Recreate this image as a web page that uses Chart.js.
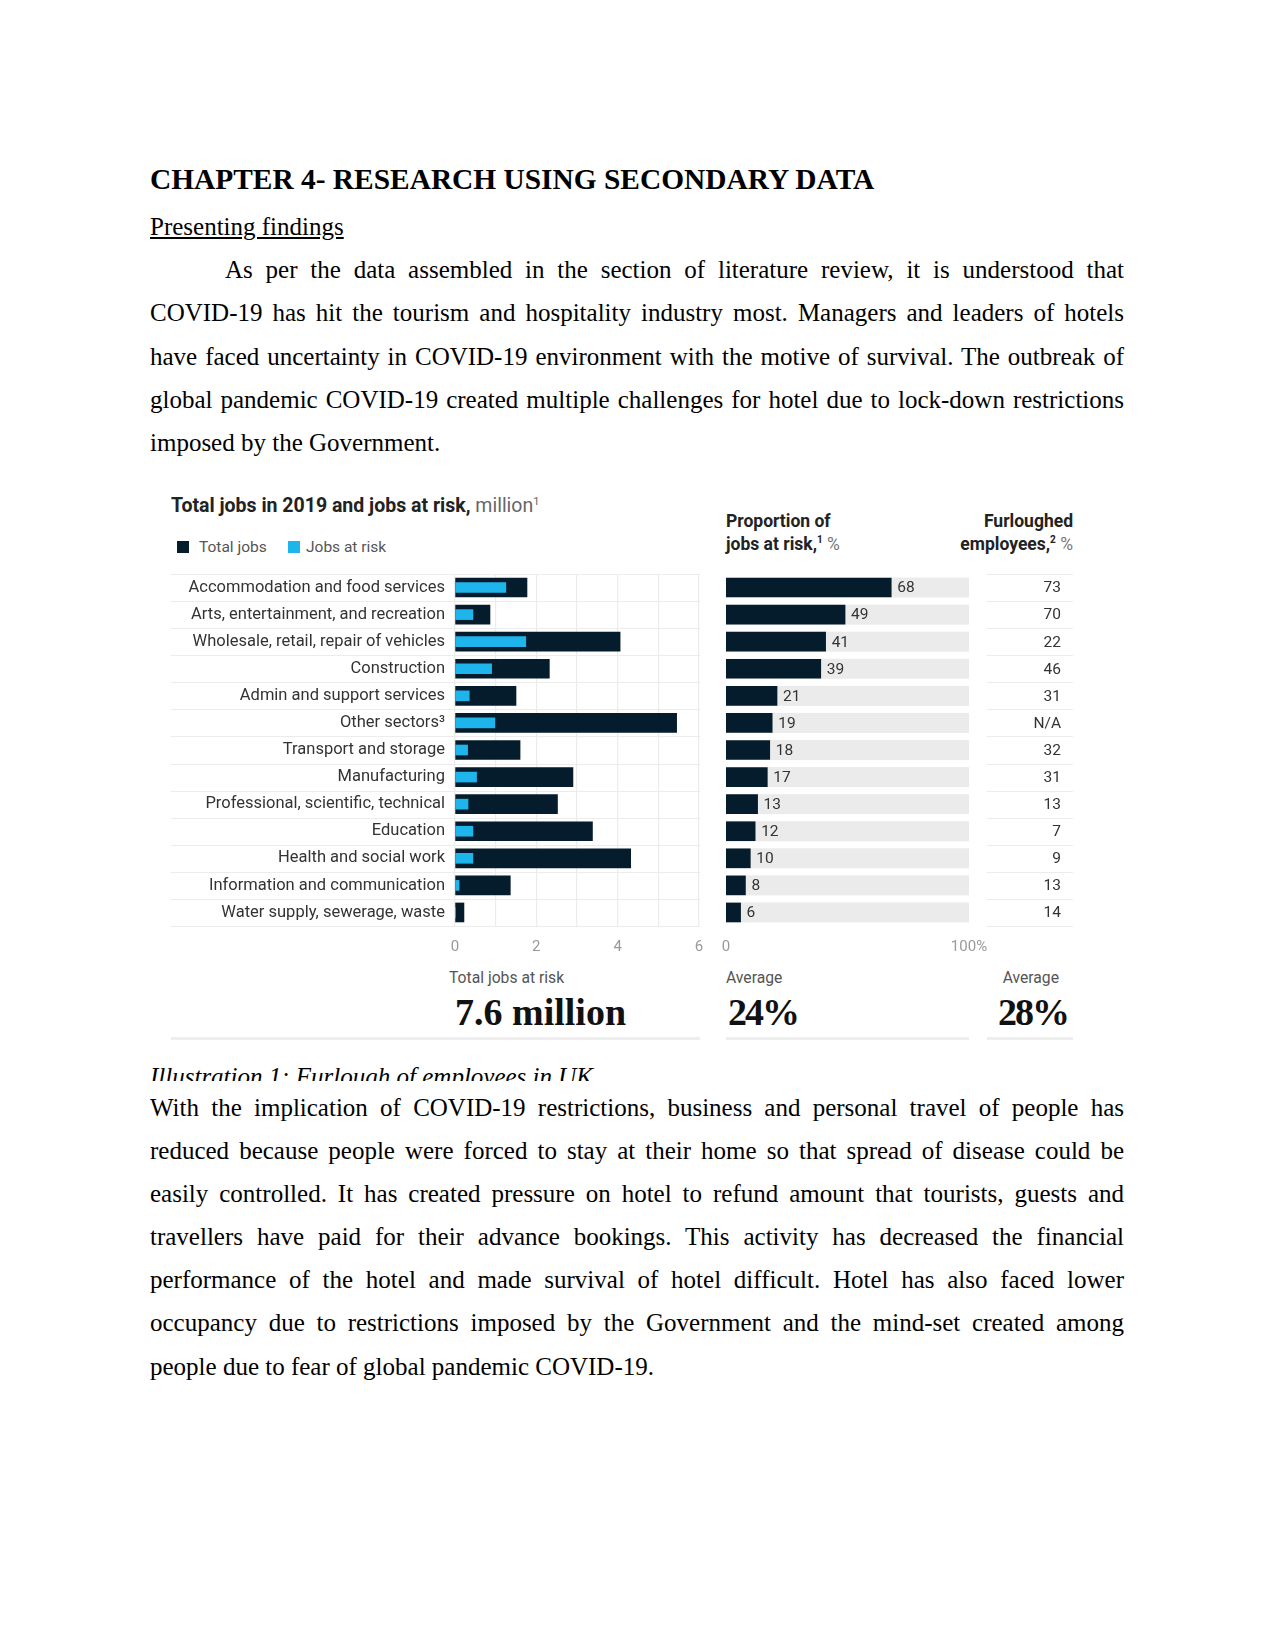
<!DOCTYPE html>
<html><head><meta charset="utf-8">
<script src="https://cdn.jsdelivr.net/npm/chart.js@4.4.1/dist/chart.umd.min.js"></script>
<style>
html,body{margin:0;padding:0;background:#fff;}
body{width:1275px;height:1650px;position:relative;overflow:hidden;font-family:"Liberation Serif","Times New Roman",serif;color:#000;}
.abs{position:absolute;white-space:nowrap;}
.line{position:absolute;left:150px;width:974px;font-size:25px;line-height:43px;height:43px;text-align:justify;text-align-last:justify;white-space:normal;}
.line.last{text-align-last:left;}
.sans{font-family:Roboto,"Liberation Sans",sans-serif;}
.big{font-family:"Liberation Serif",serif;font-weight:700;font-size:38px;line-height:44px;color:#111;}
.pct{letter-spacing:-2px;}
.hr{position:absolute;height:3px;background:#eeeeee;}
sup{vertical-align:super;line-height:0;}
</style></head>
<body>

<div class="abs" style="left:150px;top:158px;font-size:29.4px;font-weight:700;line-height:43px;">CHAPTER 4- RESEARCH USING SECONDARY DATA</div>
<div class="abs" style="left:150px;top:205px;font-size:25px;line-height:43px;text-decoration:underline;">Presenting findings</div>

<div class="line" style="top:248px;text-indent:75px;">As per the data assembled in the section of literature review, it is understood that</div>
<div class="line" style="top:291px;">COVID-19 has hit the tourism and hospitality industry most. Managers and leaders of hotels</div>
<div class="line" style="top:335px;">have faced uncertainty in COVID-19 environment with the motive of survival. The outbreak of</div>
<div class="line" style="top:378px;">global pandemic COVID-19 created multiple challenges for hotel due to lock-down restrictions</div>
<div class="line last" style="top:421px;">imposed by the Government.</div>

<!-- chart headers -->
<div class="abs sans" style="left:171px;top:494px;font-size:19.5px;line-height:24px;color:#222;"><span style="font-weight:700;">Total jobs in 2019 and jobs at risk,</span> <span style="color:#666;">million<sup style="font-size:11px;">1</sup></span></div>
<div class="abs" style="left:177px;top:541px;width:12px;height:12px;background:#051c2c;"></div>
<div class="abs sans" style="left:199px;top:537px;font-size:15.5px;line-height:20px;color:#555;">Total jobs</div>
<div class="abs" style="left:288px;top:541px;width:12px;height:12px;background:#1eb4ec;"></div>
<div class="abs sans" style="left:306px;top:537px;font-size:15.5px;line-height:20px;color:#555;">Jobs at risk</div>

<div class="abs sans" style="left:726px;top:510px;font-size:17.5px;line-height:22px;color:#222;font-weight:700;">Proportion of</div>
<div class="abs sans" style="left:726px;top:533px;font-size:17.5px;line-height:22px;color:#222;"><span style="font-weight:700;">jobs at risk,<sup style="font-size:10px;">1</sup></span> <span style="color:#777;font-weight:400;">%</span></div>
<div class="abs sans" style="right:202px;top:510px;font-size:17.5px;line-height:22px;color:#222;font-weight:700;text-align:right;">Furloughed</div>
<div class="abs sans" style="right:202px;top:533px;font-size:17.5px;line-height:22px;color:#222;text-align:right;"><span style="font-weight:700;">employees,<sup style="font-size:10px;">2</sup></span> <span style="color:#777;font-weight:400;">%</span></div>

<div style="position:absolute;left:160px;top:560px;width:545px;height:406px;"><canvas id="cL" width="545" height="406"></canvas></div>
<div style="position:absolute;left:720px;top:560px;width:360px;height:406px;"><canvas id="cR" width="360" height="406"></canvas></div>

<!-- summary -->
<div class="abs sans" style="left:449px;top:968px;font-size:15.7px;line-height:20px;color:#555;">Total jobs at risk</div>
<div class="abs big" id="sumTotal" style="left:455px;top:990px;"></div>
<div class="abs sans" style="left:726px;top:968px;font-size:15.7px;line-height:20px;color:#555;">Average</div>
<div class="abs big pct" id="sumShare" style="left:728px;top:990px;"></div>
<div class="abs sans" style="right:216px;top:968px;font-size:15.7px;line-height:20px;color:#555;text-align:right;">Average</div>
<div class="abs big pct" id="sumFurl" style="right:207px;top:990px;text-align:right;"></div>
<div class="hr" style="left:171px;width:529px;top:1037px;"></div>
<div class="hr" style="left:726px;width:243px;top:1037px;"></div>
<div class="hr" style="left:987px;width:86px;top:1037px;"></div>

<div style="position:absolute;left:150px;top:1050px;width:900px;height:31px;overflow:hidden;">
  <div class="abs" style="left:0;top:5px;font-size:25px;line-height:43px;font-style:italic;">Illustration 1: Furlough of employees in UK</div>
</div>

<div class="line" style="top:1086px;">With the implication of COVID-19 restrictions, business and personal travel of people has</div>
<div class="line" style="top:1129px;">reduced because people were forced to stay at their home so that spread of disease could be</div>
<div class="line" style="top:1172px;">easily controlled. It has created pressure on hotel to refund amount that tourists, guests and</div>
<div class="line" style="top:1215px;">travellers have paid for their advance bookings. This activity has decreased the financial</div>
<div class="line" style="top:1258px;">performance of the hotel and made survival of hotel difficult. Hotel has also faced lower</div>
<div class="line" style="top:1301px;">occupancy due to restrictions imposed by the Government and the mind-set created among</div>
<div class="line last" style="top:1345px;">people due to fear of global pandemic COVID-19.</div>

<script>
const categories = [
  "Accommodation and food services",
  "Arts, entertainment, and recreation",
  "Wholesale, retail, repair of vehicles",
  "Construction",
  "Admin and support services",
  "Other sectors\u00b3",
  "Transport and storage",
  "Manufacturing",
  "Professional, scientific, technical",
  "Education",
  "Health and social work",
  "Information and communication",
  "Water supply, sewerage, waste"
];
const totalJobs  = [1.77, 0.86, 4.06, 2.32, 1.50, 5.45, 1.60, 2.90, 2.52, 3.38, 4.32, 1.36, 0.22];
const jobsAtRisk = [1.25, 0.44, 1.74, 0.90, 0.35, 0.98, 0.31, 0.53, 0.32, 0.44, 0.44, 0.10, 0.01];
const riskShare  = [68, 49, 41, 39, 21, 19, 18, 17, 13, 12, 10, 8, 6];
const furloughed = [73, 70, 22, 46, 31, null, 32, 31, 13, 7, 9, 13, 14];
const jobsTicks  = [0, 2, 4, 6];
const shareTicks = [0, 100];
const totalAtRiskText = "7.6 million";
const avgShareText = "24%";
const avgFurloughText = "28%";

document.getElementById('sumTotal').textContent = totalAtRiskText;
document.getElementById('sumShare').textContent = avgShareText;
document.getElementById('sumFurl').textContent = avgFurloughText;

const NAVY = '#051c2c';
const CYAN = '#1eb4ec';
const SEP = '#ececec';
Chart.defaults.font.family = 'Roboto, "Liberation Sans", sans-serif';

function boundaries(ys, n) {
  const step = ys.getPixelForValue(1) - ys.getPixelForValue(0);
  const out = [];
  for (let i = 0; i <= n; i++) out.push(ys.getPixelForValue(0) + (i - 0.5) * step);
  return out;
}
function noPadX(s) { s.height = 40; s.paddingLeft = 0; s.paddingRight = 0; }

const leftLines = {
  id: 'leftLines',
  beforeDatasetsDraw(chart) {
    const c = chart.ctx, ys = chart.scales.y;
    c.save();
    c.strokeStyle = SEP; c.lineWidth = 1.2;
    boundaries(ys, categories.length).forEach(y => {
      c.beginPath(); c.moveTo(11, Math.round(y) + 0.5); c.lineTo(chart.chartArea.right + 1, Math.round(y) + 0.5); c.stroke();
    });
    c.restore();
  }
};

new Chart(document.getElementById('cL'), {
  type: 'bar',
  data: {
    labels: categories,
    datasets: [
      { label: 'Jobs at risk', data: jobsAtRisk, backgroundColor: CYAN, barThickness: 10, grouped: false, order: 0 },
      { label: 'Total jobs', data: totalJobs, backgroundColor: NAVY, barThickness: 19, grouped: false, order: 1 }
    ]
  },
  options: {
    indexAxis: 'y', responsive: false, animation: false, events: [],
    layout: { padding: { top: 14, right: 6, left: 0, bottom: 0 } },
    plugins: { legend: { display: false }, tooltip: { enabled: false } },
    scales: {
      x: {
        min: 0, max: 6,
        grid: { color: SEP, drawTicks: false, lineWidth: 1.2 },
        border: { display: false },
        ticks: { stepSize: 1, padding: 12, color: '#999', font: { size: 15 },
          callback: v => jobsTicks.includes(v) ? String(v) : '' },
        afterFit: noPadX
      },
      y: {
        grid: { display: false, drawTicks: false },
        border: { display: false },
        ticks: { color: '#333', font: { size: 16.5 }, padding: 10, autoSkip: false },
        afterFit: s => { s.width = 295; s.paddingTop = 0; s.paddingBottom = 0; }
      }
    }
  },
  plugins: [leftLines]
});

const rightDecor = {
  id: 'rightDecor',
  beforeDatasetsDraw(chart) {
    const c = chart.ctx, xs = chart.scales.x, ys = chart.scales.y;
    c.save();
    c.fillStyle = '#ebebeb';
    const x0 = xs.getPixelForValue(shareTicks[0]), x1 = xs.getPixelForValue(shareTicks[1]);
    categories.forEach((_, i) => {
      const y = ys.getPixelForValue(i);
      c.fillRect(x0, y - 10, x1 - x0, 20);
    });
    c.strokeStyle = SEP; c.lineWidth = 1.2;
    boundaries(ys, categories.length).forEach(y => {
      c.beginPath(); c.moveTo(267, Math.round(y) + 0.5); c.lineTo(353, Math.round(y) + 0.5); c.stroke();
    });
    c.restore();
  },
  afterDatasetsDraw(chart) {
    const c = chart.ctx, ys = chart.scales.y;
    const meta = chart.getDatasetMeta(0);
    c.save();
    c.font = '15.5px Roboto, "Liberation Sans", sans-serif';
    c.fillStyle = '#333';
    c.textBaseline = 'middle';
    c.textAlign = 'left';
    meta.data.forEach((bar, i) => { c.fillText(String(riskShare[i]), bar.x + 6, bar.y + 1); });
    c.textAlign = 'right';
    furloughed.forEach((v, i) => {
      c.fillText(v === null ? 'N/A' : String(v), 341, ys.getPixelForValue(i) + 1);
    });
    c.restore();
  }
};

new Chart(document.getElementById('cR'), {
  type: 'bar',
  data: {
    labels: categories,
    datasets: [
      { label: 'Proportion of jobs at risk', data: riskShare, backgroundColor: NAVY, barThickness: 19 }
    ]
  },
  options: {
    indexAxis: 'y', responsive: false, animation: false, events: [],
    layout: { padding: { top: 14, right: 111, left: 6, bottom: 0 } },
    plugins: { legend: { display: false }, tooltip: { enabled: false } },
    scales: {
      x: {
        min: 0, max: 100,
        grid: { display: false, drawTicks: false },
        border: { display: false },
        ticks: { stepSize: 100, padding: 12, color: '#999', font: { size: 15 },
          callback: v => shareTicks.includes(v) ? (v === 100 ? '100%' : String(v)) : '' },
        afterFit: noPadX
      },
      y: { display: false }
    }
  },
  plugins: [rightDecor]
});
</script>
</body></html>
